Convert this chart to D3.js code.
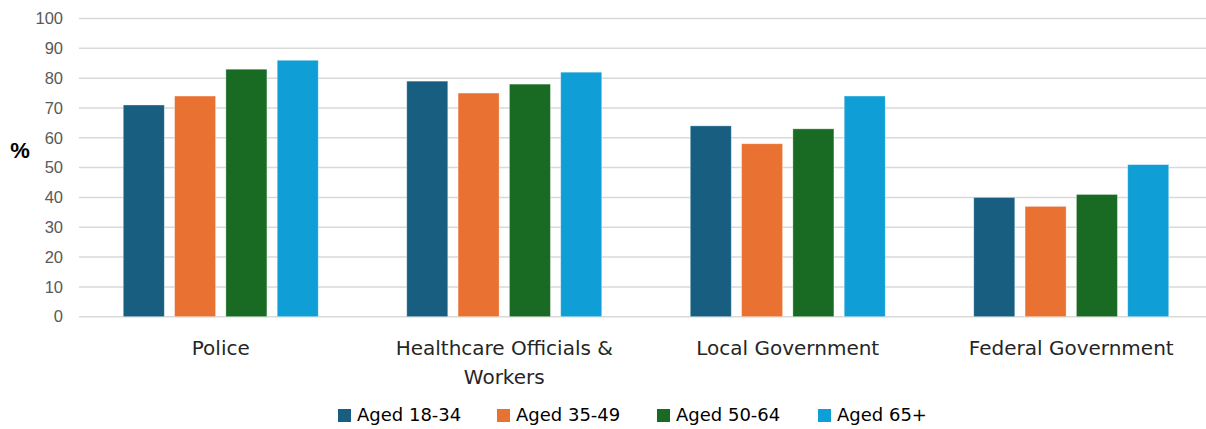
<!DOCTYPE html>
<html>
<head>
<meta charset="utf-8">
<script src="https://cdn.jsdelivr.net/npm/d3@7"></script>
<style>
  html, body { margin: 0; padding: 0; background: #fff; }
  svg { display: block; font-family: "DejaVu Sans", "Liberation Sans", Arial, sans-serif; }
</style>
</head>
<body>
<svg id="chart" width="1206" height="429"></svg>
<script>
// Trust by age group, in percent
const categories = [["Police"], ["Healthcare Officials &", "Workers"], ["Local Government"], ["Federal Government"]];
const seriesNames = ["Aged 18-34", "Aged 35-49", "Aged 50-64", "Aged 65+"];
const aged18to34 = [71, 79, 64, 40];
const aged35to49 = [74, 75, 58, 37];
const aged50to64 = [83, 78, 63, 41];
const aged65plus = [86, 82, 74, 51];
const seriesValues = [aged18to34, aged35to49, aged50to64, aged65plus];
const colors = ["#175E81", "#E97132", "#196B24", "#0F9ED5"];
const yTicks = [0, 10, 20, 30, 40, 50, 60, 70, 80, 90, 100];

const svg = d3.select("#chart");
const plotLeft = 79, plotRight = 1213, plotTop = 18.5, plotBottom = 316.7;

const x0 = d3.scaleBand().domain(d3.range(categories.length)).range([plotLeft, plotRight]).paddingInner(0).paddingOuter(0);
const y = d3.scaleLinear().domain([0, 100]).range([plotBottom, plotTop]);

// inner scale for the four bars in each category
const groupWidth = 195;
const x1 = d3.scaleBand().domain(d3.range(seriesNames.length)).range([0, groupWidth]).paddingInner(0.2).paddingOuter(0);

// gridlines
const grid = svg.append("g");
grid.selectAll("line").data(yTicks).join("line")
  .attr("x1", plotLeft).attr("x2", 1206)
  .attr("y1", d => y(d)).attr("y2", d => y(d))
  .attr("stroke", "#d9d9d9").attr("stroke-width", 1.5);

// y axis labels
const yAxis = svg.append("g").attr("transform", `translate(${plotLeft - 10},0)`)
  .call(d3.axisLeft(y).tickValues(yTicks).tickSize(0).tickPadding(6));
yAxis.select(".domain").remove();
yAxis.selectAll("text").attr("fill", "#595959").attr("font-size", 16.5)
  .attr("font-family", "'Liberation Sans', Arial, sans-serif");

svg.append("text").attr("x", 20).attr("y", 152).attr("text-anchor", "middle")
  .attr("dominant-baseline", "middle").attr("font-size", 22).attr("font-weight", "bold")
  .attr("font-family", "'Liberation Sans', Arial, sans-serif")
  .attr("fill", "#000").text("%");

// bars
const groups = svg.append("g").selectAll("g").data(categories.map((c, i) => i)).join("g")
  .attr("transform", i => `translate(${x0(i) + (x0.bandwidth() - groupWidth) / 2},0)`);
groups.selectAll("rect").data(i => seriesValues.map((s, k) => ({k, v: s[i]}))).join("rect")
  .attr("x", d => x1(d.k)).attr("width", x1.bandwidth())
  .attr("y", d => y(d.v)).attr("height", d => y(0) - y(d.v))
  .attr("fill", d => colors[d.k])
  .attr("stroke", "rgba(255,255,255,0.45)").attr("stroke-width", 0.8);

// category labels
const catLabels = svg.append("g").selectAll("text").data(categories.map((c, i) => ({c, i}))).join("text")
  .attr("x", d => x0(d.i) + x0.bandwidth() / 2)
  .attr("y", 355)
  .attr("text-anchor", "middle").attr("font-size", 20).attr("fill", "#262626");
catLabels.selectAll("tspan").data(d => d.c.map((line, j) => ({line, j, x: x0(d.i) + x0.bandwidth() / 2}))).join("tspan")
  .attr("x", d => d.x).attr("dy", d => d.j === 0 ? 0 : 29).text(d => d.line);

// legend
const legendX = [338, 497, 657, 818];
const legend = svg.append("g").selectAll("g").data(seriesNames).join("g")
  .attr("transform", (d, i) => `translate(${legendX[i]},409)`);
legend.append("rect").attr("width", 13).attr("height", 13).attr("fill", (d, i) => colors[i]);
legend.append("text").attr("x", 19).attr("y", 6.5).attr("dominant-baseline", "middle")
  .attr("font-size", 18).attr("fill", "#000").text(d => d);
</script>
</body>
</html>
